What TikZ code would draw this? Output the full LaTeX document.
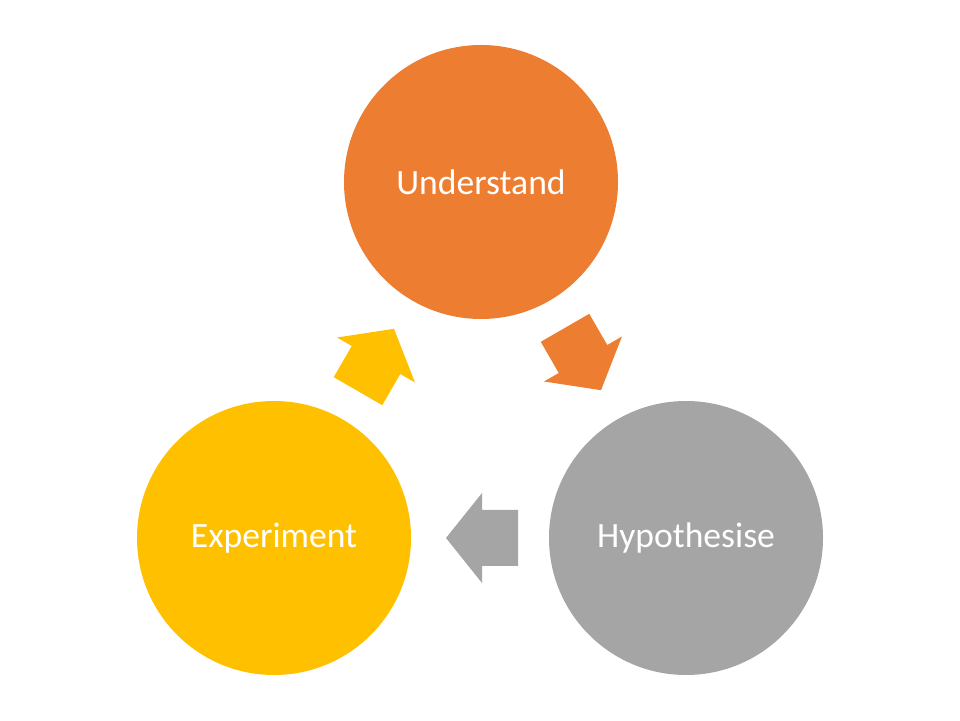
\documentclass[tikz,border=0pt]{standalone}
\usepackage{fontspec}
\setmainfont{Carlito}
\definecolor{stageorange}{HTML}{ED7D31}
\definecolor{stagegray}{HTML}{A5A5A5}
\definecolor{stageyellow}{HTML}{FFC000}
\begin{document}
\begin{tikzpicture}[x=1pt,y=1pt,
  stage/.style={circle, minimum size=274pt, inner sep=0pt, text=white,
    font=\fontsize{35.6}{40}\selectfont},
  blockarrow/.pic={
    \fill (-36,-28) -- (0,-28) -- (0,-45) -- (36,0) -- (0,45) -- (0,28) -- (-36,28) -- cycle;
  }]
\useasboundingbox (0,0) rectangle (960,720);
% the three stages of the cycle
\node[stage, fill=stageorange] (understand) at (481,538) {Understand};
\node[stage, fill=stagegray] (hypothesise) at (686,182) {Hypothesise};
\node[stage, fill=stageyellow] (experiment) at (274,182) {Experiment};
% block arrows between the stages
\pic[fill=stageorange, rotate=-60] (toHyp) at (583,361) {blockarrow};
\pic[fill=stagegray, rotate=180] (toExp) at (482,182) {blockarrow};
\pic[fill=stageyellow, rotate=60] (toUnd) at (376,360) {blockarrow};
\end{tikzpicture}
\end{document}
